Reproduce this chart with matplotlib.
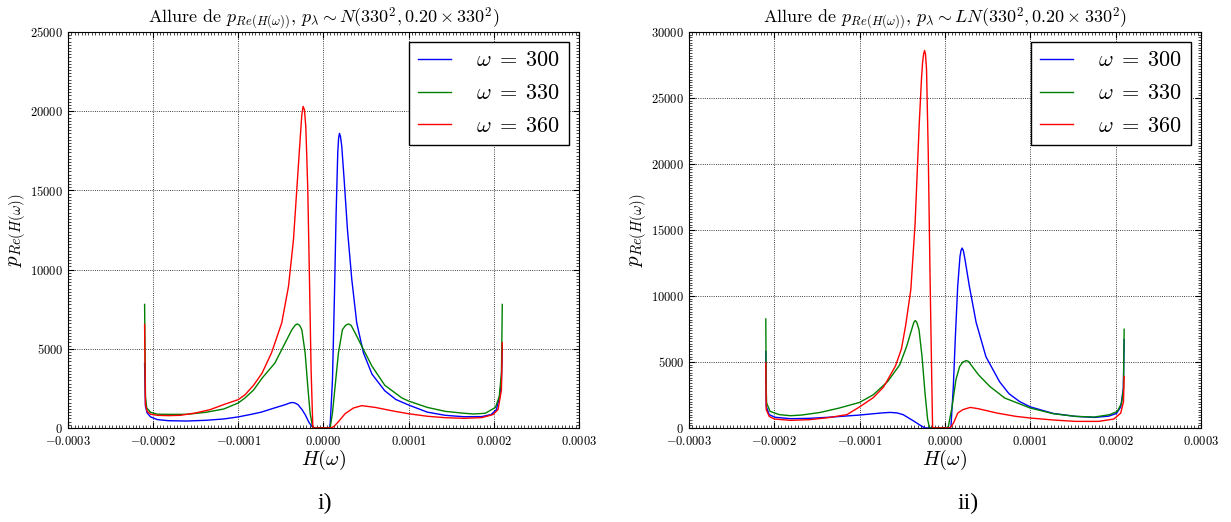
import numpy as np
import matplotlib.pyplot as plt
from matplotlib.ticker import MultipleLocator, FuncFormatter

plt.rcParams['font.family'] = 'serif'
plt.rcParams['font.serif'] = ['cmr10']
plt.rcParams['mathtext.fontset'] = 'cm'
plt.rcParams['axes.formatter.use_mathtext'] = True

# H(omega) en unites de 1e-6, densite lue sur la figure
# --- p_lambda ~ N ---
h_n_300 = [-210, -209, -207, -203, -195, -182, -160, -138, -117, -100, -85, -73, -56, -45, -40, -37, -34, -30, -25, -21, -17, -13, -12,
           7, 8, 10.6, 12.9, 14.9, 16.8, 17.8, 18.8, 20, 21.5, 24.3, 28.2, 33.3, 39.1, 47, 57, 72, 85, 100, 122, 143, 165, 186, 197, 203, 207, 209, 210]
p_n_300 = [4070, 1370, 950, 700, 530, 460, 440, 485, 570, 700, 860, 1000, 1290, 1470, 1570, 1610, 1590, 1480, 1150, 800, 350, 60, 0,
           0, 300, 3050, 8300, 13580, 17370, 18300, 18600, 18400, 17790, 15680, 12520, 9370, 6630, 4740, 3400, 2350, 1800, 1450, 1000, 800, 710, 720, 850, 1150, 2000, 3000, 5200]

h_n_330 = [-210, -209, -207.5, -203, -195, -182, -160, -138, -117, -100, -92, -82, -72, -57, -45, -37, -33, -30.5, -28, -25.4, -21.5, -18.4, -15.7, -12.9, -12,
           7.8, 10.6, 13.7, 17.6, 22.3, 26, 29.4, 32.5, 37.2, 47, 57, 72, 92, 100, 122, 143, 165, 176, 190, 202, 206.5, 209, 210]
p_n_330 = [7800, 2000, 1270, 990, 870, 860, 865, 990, 1200, 1580, 1900, 2400, 3150, 4100, 5370, 6210, 6500, 6570, 6480, 6210, 4740, 2630, 950, 105, 0,
           0, 950, 2630, 4740, 6210, 6480, 6570, 6480, 6000, 4950, 3900, 2700, 1900, 1700, 1300, 1050, 930, 885, 930, 1300, 2000, 3500, 7800]

h_n_360 = [-210, -209, -207, -203, -195, -182, -168, -150, -133, -117, -100, -92, -82, -72, -61, -49, -41, -35.2, -31.3, -27.4, -25.5, -23.9, -22.3, -20.7, -19.5, -18.4, -16.4, -14.5, -12.5, -11.7,
           8, 12, 17.6, 25.4, 35.2, 45, 60.7, 84, 100, 122, 143, 165, 186, 199, 205, 209, 210]
p_n_360 = [6540, 1480, 1055, 870, 800, 780, 800, 950, 1160, 1480, 1790, 2100, 2700, 3470, 4740, 6630, 8950, 11890, 15050, 18200, 19700, 20300, 20100, 19000, 17000, 15050, 9370, 3680, 100, 0,
           0, 80, 400, 900, 1260, 1410, 1300, 1050, 900, 740, 650, 610, 655, 845, 1160, 2400, 5380]

# --- p_lambda ~ LN ---
h_ln_300 = [-210, -209.5, -206, -199, -181, -159, -137, -100, -84, -72, -64, -56, -49, -36, -27, -23,
            5, 7, 9.8, 12.2, 14.9, 17.6, 18.8, 20, 21.5, 23.5, 28.6, 36.5, 48, 64, 75, 87.5, 100, 127, 153, 175, 192, 201, 206, 209, 210]
p_ln_300 = [5800, 1640, 1010, 810, 705, 730, 810, 980, 1080, 1150, 1180, 1140, 1010, 500, 125, 0,
            0, 100, 3160, 6940, 10730, 13000, 13450, 13630, 13450, 12750, 10730, 8000, 5400, 3500, 2600, 2000, 1600, 1100, 880, 800, 900, 1100, 1600, 3000, 6700]

h_ln_330 = [-210, -209.5, -209, -205, -194, -181, -168, -146, -124, -100, -84, -67, -53, -45, -38, -36.5, -34.8, -33, -30.4, -26.9, -23.4, -20.3, -18,
            2, 4, 8.4, 12.8, 17.2, 21, 25.1, 28, 30.4, 39.3, 52.5, 70, 100, 127, 153, 175, 193, 202, 207, 209.2, 210]
p_ln_330 = [8260, 2900, 1890, 1260, 1010, 930, 980, 1180, 1510, 1940, 2520, 3530, 4790, 6170, 7680, 8000, 8140, 8000, 7430, 5420, 2640, 630, 0,
            0, 125, 1640, 3650, 4660, 5000, 5110, 5020, 4790, 4030, 3150, 2270, 1510, 1080, 880, 830, 1010, 1260, 1890, 3000, 7480]

h_ln_360 = [-210, -209.5, -206, -200, -181, -159, -137, -115, -100, -84, -72, -65, -58, -51, -46, -40, -35, -30.2, -27.5, -26.3, -25, -23.9, -22.8, -21.6, -19.6, -17.6, -15.7, -14.5,
            6, 10, 15, 21, 29.6, 39, 61, 83, 100, 127, 153, 180, 198, 206, 209.2, 210]
p_ln_360 = [4930, 1390, 880, 680, 580, 630, 780, 1010, 1600, 2300, 3100, 3900, 4700, 6000, 7800, 10500, 15500, 23000, 26500, 27650, 28350, 28600, 28300, 27140, 20830, 12000, 4420, 0,
            0, 380, 1130, 1390, 1560, 1460, 1130, 880, 755, 605, 500, 500, 680, 1130, 2000, 3900]

omegas = [300, 330, 360]
couleurs = ['b', 'g', 'r']

fig = plt.figure(figsize=(12.31, 5.22), dpi=100)
ax1 = fig.add_axes([0.0552, 0.1801, 0.4151, 0.7586])
ax2 = fig.add_axes([0.5597, 0.1801, 0.4159, 0.7586])

courbes = [
    (ax1, [(h_n_300, p_n_300), (h_n_330, p_n_330), (h_n_360, p_n_360)], 'N', 25000),
    (ax2, [(h_ln_300, p_ln_300), (h_ln_330, p_ln_330), (h_ln_360, p_ln_360)], 'LN', 30000),
]

for ax, series, loi, ymax in courbes:
    for (h, p), w, c in zip(series, omegas, couleurs):
        ax.plot(np.array(h) * 1e-6, p, color=c, lw=1.0, label=r'$\omega\;=\;%d$' % w)
    ax.set_xlim(-0.0003, 0.0003)
    ax.set_ylim(0, ymax)
    ax.xaxis.set_major_locator(MultipleLocator(0.0001))
    ax.yaxis.set_major_locator(MultipleLocator(5000))
    ax.xaxis.set_minor_locator(MultipleLocator(0.000004))
    ax.yaxis.set_minor_locator(MultipleLocator(200))
    ax.xaxis.set_major_formatter(FuncFormatter(lambda v, pos: '$%.4f$' % (0.0 if abs(v) < 1e-9 else v)))
    ax.yaxis.set_major_formatter(FuncFormatter(lambda v, pos: '$%d$' % v))
    ax.tick_params(which='both', direction='in', top=True, right=True, labelsize=9)
    ax.tick_params(which='major', length=4)
    ax.tick_params(which='minor', length=2, width=0.5)
    ax.tick_params(axis='x', pad=5)
    ax.grid(True, which='major', linestyle=':', color='k', lw=0.6)
    ax.set_title(r'Allure de $p_{Re(H(\omega))}$, $p_\lambda \sim %s(330^2, 0.20 \times 330^2)$' % loi, fontsize=13)
    ax.set_xlabel(r'$H(\omega)$', fontsize=14.5, labelpad=0)
    ax.set_ylabel(r'$p_{Re(H(\omega))}$', fontsize=15, labelpad=2)
    leg = ax.legend(loc='upper right', fontsize=16, fancybox=False, framealpha=1,
                    handlelength=1.5, handletextpad=1.1, labelspacing=0.6, borderaxespad=0.45)
    leg.get_frame().set_edgecolor('k')

fig.text(325 / 1231, 1 - 503 / 522, 'i)', family='Liberation Serif', fontsize=17, ha='center', va='center')
fig.text(968 / 1231, 1 - 503 / 522, 'ii)', family='Liberation Serif', fontsize=17, ha='center', va='center')

plt.savefig('out.png', dpi=100)
